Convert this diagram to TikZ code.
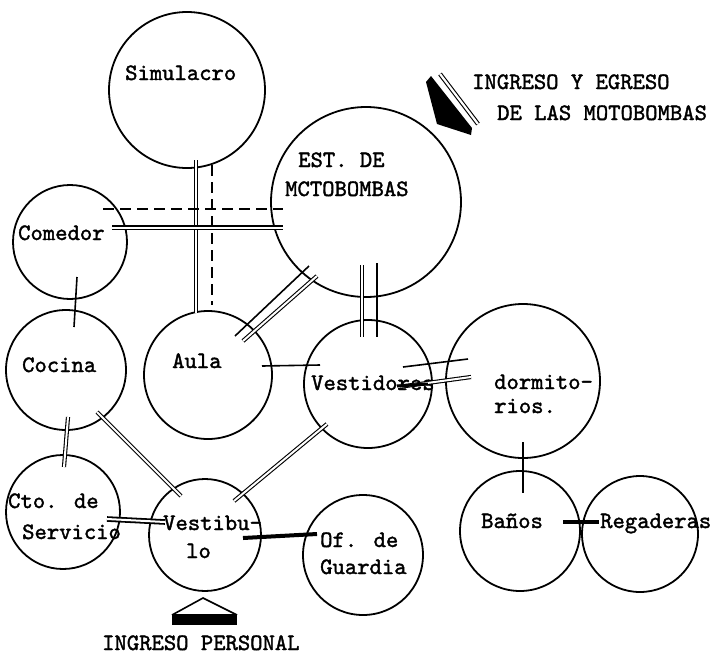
\documentclass[tikz,border=0pt]{standalone}
\usepackage{fontspec}
\newfontfamily\tw{lmmono10-regular.otf}[RawFeature={embolden=1.6}]
\usetikzlibrary{calc}
\begin{document}
\begin{tikzpicture}[x=1pt,y=-1pt,
 room/.style={circle,draw,line width=1.8pt,inner sep=0pt,minimum size=#1},
 lbl/.style={anchor=base west,inner sep=0pt,font=\fontsize{23.5}{28}\selectfont\tw},
 link/.style={line width=1.6pt},
 dbl/.style={double,line width=1.1pt,double distance=2pt},
 dsh/.style={line width=2pt,dash pattern=on 11pt off 6pt},
 heavy/.style={line width=4pt}]
\useasboundingbox (0,0) rectangle (714,659);
\fill[white] (0,0) rectangle (714,659);

% rooms
\node[room=156pt] (sim) at (187,90) {};
\node[room=190pt] (est) at (366,202) {};
\node[room=114pt] (com) at (70,242) {};
\node[room=120pt] (coc) at (66,370) {};
\node[room=128pt] (aula) at (208,375) {};
\node[room=128pt] (ves) at (368,384) {};
\node[room=154pt] (dor) at (523,381) {};
\node[room=114pt] (cto) at (63,512) {};
\node[room=112pt] (vtb) at (205,535) {};
\node[room=120pt] (ofg) at (363,555) {};
\node[room=120pt] (ban) at (520,531) {};
\node[room=116pt] (reg) at (640,534) {};

% labels
\node[lbl] (tsim) at (125,80) {Simulacro};
\node[lbl] (test1) at (298,167) {EST. DE};
\node[lbl] (test2) at (285,196) {MCTOBOMBAS};
\node[lbl] (tcom) at (18,240) {Comedor};
\node[lbl] (tcoc) at (22,372) {Cocina};
\node[lbl] (taula) at (172,368) {Aula};
\node[lbl] (tves) at (311,390) {Vestidores};
\node[lbl] (tdor1) at (494,389) {dormito-};
\node[lbl] (tdor2) at (494,413) {rios.};
\node[lbl] (tcto1) at (8,508) {Cto. de};
\node[lbl] (tcto2) at (22,539) {Servicio};
\node[lbl] (tvtb1) at (163,530) {Vestibu-};
\node[lbl] (tvtb2) at (186,558) {lo};
\node[lbl] (tofg1) at (320,547) {Of. de};
\node[lbl] (tofg2) at (320,574) {Guardia};
\node[lbl] (tban) at (481,528) {Baños};
\node[lbl] (treg) at (600,528) {Regaderas};
\node[lbl] (tin1) at (472,89) {INGRESO Y EGRESO};
\node[lbl] (tin2) at (497,120) {DE LAS MOTOBOMBAS};
\node[lbl] (tper) at (102,650) {INGRESO PERSONAL};

% Simulacro -- Aula
\coordinate (sa1) at (196,160); \coordinate (sa2) at (196,313);
\draw[dbl] (sa1) -- (sa2);
\coordinate (sa3) at (212,165); \coordinate (sa4) at (212,305);
\draw[dsh] (sa3) -- (sa4);
% Comedor -- Est
\coordinate (ce1) at (112,227.5); \coordinate (ce2) at (283,227.5);
\draw[dbl] (ce1) -- (ce2);
\coordinate (ce3) at (103,209); \coordinate (ce4) at (283,209);
\draw[dsh] (ce3) -- (ce4);
% Est -- Aula
\coordinate (ea1) at (235,336); \coordinate (ea2) at (309,266);
\draw[link] (ea1) -- (ea2);
\coordinate (ea3) at (243,341); \coordinate (ea4) at (317,276);
\draw[dbl] (ea3) -- (ea4);
% Est -- Vestidores
\coordinate (ev1) at (362,265); \coordinate (ev2) at (362,337);
\draw[dbl] (ev1) -- (ev2);
\coordinate (ev3) at (377,263); \coordinate (ev4) at (377,337);
\draw[link] (ev3) -- (ev4);
% Aula -- Vestidores
\coordinate (av1) at (262,366); \coordinate (av2) at (320,365);
\draw[link] (av1) -- (av2);
% Vestidores -- dormitorios
\coordinate (vd1) at (403,367); \coordinate (vd2) at (468,359);
\draw[link] (vd1) -- (vd2);
\coordinate (vd3) at (398,387); \coordinate (vd4) at (471,377);
\draw[dbl] (vd3) -- (vd4);
\coordinate (vd5) at (397,386); \coordinate (vd6) at (428,384);
\draw[line width=3pt] (vd5) -- (vd6);
% Comedor -- Cocina
\coordinate (cc1) at (77,277); \coordinate (cc2) at (74,327);
\draw[link] (cc1) -- (cc2);
% Cocina -- Cto
\coordinate (ct1) at (68,417); \coordinate (ct2) at (64,467);
\draw[dbl] (ct1) -- (ct2);
% Cocina -- Vestibulo
\coordinate (cv1) at (97,412); \coordinate (cv2) at (181,496);
\draw[dbl] (cv1) -- (cv2);
% Vestidores -- Vestibulo
\coordinate (vv1) at (327,424); \coordinate (vv2) at (234,501);
\draw[dbl] (vv1) -- (vv2);
% Cto -- Vestibulo
\coordinate (cb1) at (107,519); \coordinate (cb2) at (165,522);
\draw[double,line width=1.8pt,double distance=2pt] (cb1) -- (cb2);
% Vestibulo -- Of. de Guardia
\coordinate (vo1) at (243,538); \coordinate (vo2) at (317,534);
\draw[heavy] (vo1) -- (vo2);
% dormitorios -- Baños
\coordinate (db1) at (523,442); \coordinate (db2) at (523,493);
\draw[link] (db1) -- (db2);
% Baños -- Regaderas
\coordinate (br1) at (563,522); \coordinate (br2) at (599,522);
\draw[line width=3.5pt] (br1) -- (br2);

% entry arrow top right
\fill (426,82) -- (431,76) -- (472,128) -- (471,135) -- (437,124) -- cycle;
\draw[double,line width=1.1pt,double distance=2.2pt] (440,74) -- (478,124);

% personal entry
\draw[line width=1.6pt] (172,615) -- (203,598) -- (237,615);
\fill (172,614) rectangle (237,625);
\end{tikzpicture}
\end{document}
